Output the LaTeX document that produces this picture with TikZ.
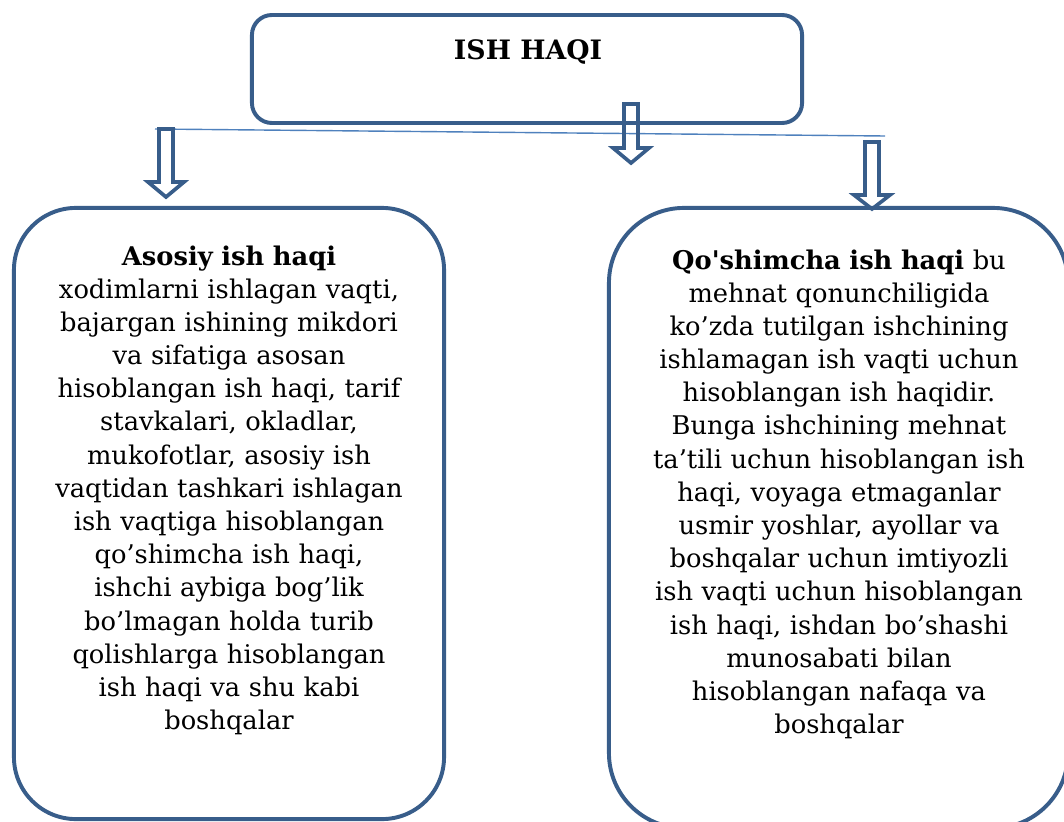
\documentclass[tikz,border=0pt]{standalone}
\usepackage{fontspec}
\setmainfont{DejaVu Serif}
\usepackage{tikz}
\usetikzlibrary{positioning}
\definecolor{boxblue}{HTML}{385D8A}
\definecolor{lineblue}{HTML}{4F81BD}

\begin{document}
\begin{tikzpicture}[x=0.025cm, y=-0.025cm,
    hollow/.style={draw=boxblue, line width=2.6pt, line join=miter}]
      \useasboundingbox (0,0) rectangle (1064,821);
      \begin{scope}[every node/.style={rectangle, draw=boxblue, line width=2.8pt}]
          \node[minimum width=13.75cm, minimum height=2.7cm, rounded corners=0.5cm] (top) at (527,69) {};
          \node[minimum width=10.75cm, minimum height=15.275cm, rounded corners=1.55cm] (basic) at (229,513.5) {};
          \node[minimum width=11.475cm, minimum height=15.5cm, rounded corners=1.875cm] (extra) at (838.5,518) {};
      \end{scope}

      \node[anchor=base, font=\bfseries\fontsize{19}{23}\selectfont] (title) at (528,60) {ISH HAQI};

      \begin{scope}[every node/.style={anchor=base, text width=11cm, align=center,
                    inner sep=0pt, font=\fontsize{18.3}{23.6}\selectfont}]
          \node (basictext) at (229,265) {\textbf{Asosiy ish haqi}\\
            xodimlarni ishlagan vaqti,\\
            bajargan ishining mikdori\\
            va sifatiga asosan\\
            hisoblangan ish haqi, tarif\\
            stavkalari, okladlar,\\
            mukofotlar, asosiy ish\\
            vaqtidan tashkari ishlagan\\
            ish vaqtiga hisoblangan\\
            qo’shimcha ish haqi,\\
            ishchi aybiga bog’lik\\
            bo’lmagan holda turib\\
            qolishlarga hisoblangan\\
            ish haqi va shu kabi\\
            boshqalar};
          \node (extratext) at (839,269) {\textbf{Qo\textquotesingle shimcha ish haqi} bu\\
            mehnat qonunchiligida\\
            ko’zda tutilgan ishchining\\
            ishlamagan ish vaqti uchun\\
            hisoblangan ish haqidir.\\
            Bunga ishchining mehnat\\
            ta’tili uchun hisoblangan ish\\
            haqi, voyaga etmaganlar\\
            usmir yoshlar, ayollar va\\
            boshqalar uchun imtiyozli\\
            ish vaqti uchun hisoblangan\\
            ish haqi, ishdan bo’shashi\\
            munosabati bilan\\
            hisoblangan nafaqa va\\
            boshqalar};
      \end{scope}

      % thin connecting line
      \coordinate (lineL) at (155,129);
      \coordinate (lineR) at (885,136);
      \draw[lineblue, line width=1pt] (lineL) -- (lineR);

      % hollow block arrows
      \draw[hollow] (159,129) -- (173,129) -- (173,182) -- (184,182) -- (166,197) -- (148,182) -- (159,182) -- cycle;
      \draw[hollow] (624,104) -- (638,104) -- (638,148) -- (649,148) -- (631,163) -- (613,148) -- (624,148) -- cycle;
      \draw[hollow] (865,142) -- (879,142) -- (879,195) -- (890,195) -- (872,209) -- (854,195) -- (865,195) -- cycle;
\end{tikzpicture}
\end{document}
